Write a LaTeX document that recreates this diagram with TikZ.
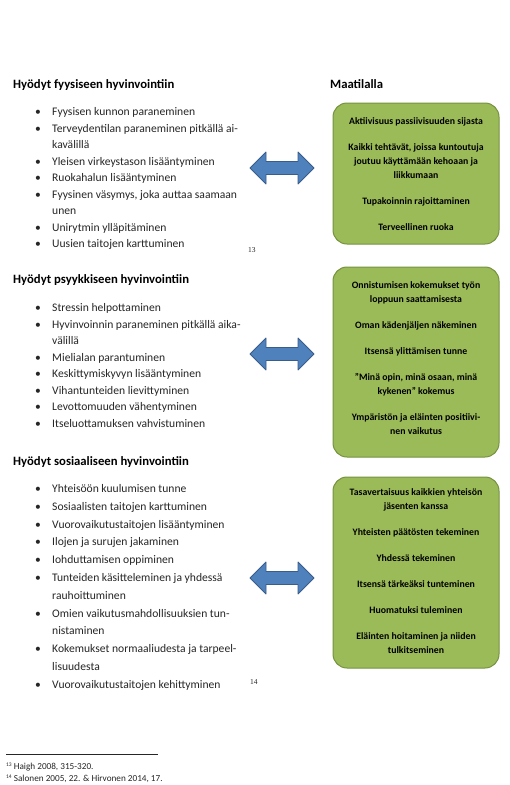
\documentclass[tikz,border=0pt]{standalone}
\usepackage{fontspec}
\setmainfont{Carlito}
\newfontfamily\numfont{Liberation Serif}
\definecolor{boxgreen}{RGB}{155,187,89}
\definecolor{boxborder}{RGB}{118,146,62}
\definecolor{arrowblue}{RGB}{79,129,189}
\definecolor{arrowborder}{RGB}{56,93,138}
\definecolor{bodytext}{RGB}{38,38,38}
\tikzset{
  listtext/.style={anchor=base west, inner sep=0pt, text=bodytext},
  heading/.style={anchor=base west, inner sep=0pt, text=black, font=\bfseries\fontsize{12.7}{14}\selectfont},
  greenbox/.style={draw=boxborder, fill=boxgreen, rounded corners=14pt, line width=1pt, minimum width=166pt, inner sep=0pt},
  boxtext/.style={align=center, inner sep=0pt, text=black, font=\bfseries\fontsize{9.8}{14}\selectfont},
  blockarrow/.style={fill=arrowblue, draw=arrowborder, line width=0.8pt, line join=round},
  dblarrow/.pic={\draw[blockarrow] (-32,0) -- ++(16,-16) -- ++(0,9.5) -- ++(32,0) -- ++(0,-9.5) -- ++(16,16) -- ++(-16,16) -- ++(0,-9.5) -- ++(-32,0) -- ++(0,9.5) -- cycle;},
  pagenum/.style={anchor=base west, inner sep=0pt, text=bodytext, font=\numfont\fontsize{7.5}{8}\selectfont},
  footnote/.style={anchor=base west, inner sep=0pt, text=bodytext, font=\fontsize{9.2}{10}\selectfont}
}
\newcommand{\bul}{\textbullet}
\begin{document}
\begin{tikzpicture}[x=1pt,y=-1pt]
\useasboundingbox[fill=white] (0,0) rectangle (510,785);

% ---------- left column ----------
\node[heading] (h1) at (13,88.5) {Hyödyt fyysiseen hyvinvointiin};
\node[listtext, font=\fontsize{11.6}{16.5}\selectfont] (l1) at (35,115.5) {%
\begin{tabular}[t]{@{}p{17pt}@{}l@{}}
\bul & Fyysisen kunnon paraneminen\\
\bul & Terveydentilan paraneminen pitkällä ai-\\
     & kavälillä\\
\bul & Yleisen virkeystason lisääntyminen\\
\bul & Ruokahalun lisääntyminen\\
\bul & Fyysinen väsymys, joka auttaa saamaan\\
     & unen\\
\bul & Unirytmin ylläpitäminen\\
\bul & Uusien taitojen karttuminen
\end{tabular}};
\node[pagenum] (p13) at (248,252) {13};

\node[heading] (h2) at (13,283.5) {Hyödyt psyykkiseen hyvinvointiin};
\node[listtext, font=\fontsize{11.6}{16.5}\selectfont] (l2) at (35,311.5) {%
\begin{tabular}[t]{@{}p{17pt}@{}l@{}}
\bul & Stressin helpottaminen\\
\bul & Hyvinvoinnin paraneminen pitkällä aika-\\
     & välillä\\
\bul & Mielialan parantuminen\\
\bul & Keskittymiskyvyn lisääntyminen\\
\bul & Vihantunteiden lievittyminen\\
\bul & Levottomuuden vähentyminen\\
\bul & Itseluottamuksen vahvistuminen
\end{tabular}};

\node[heading] (h3) at (13,465.5) {Hyödyt sosiaaliseen hyvinvointiin};
\node[listtext, font=\fontsize{11.6}{17.8}\selectfont] (l3) at (35,492.5) {%
\begin{tabular}[t]{@{}p{17pt}@{}l@{}}
\bul & Yhteisöön kuulumisen tunne\\
\bul & Sosiaalisten taitojen karttuminen\\
\bul & Vuorovaikutustaitojen lisääntyminen\\
\bul & Ilojen ja surujen jakaminen\\
\bul & Iohduttamisen oppiminen\\
\bul & Tunteiden käsitteleminen ja yhdessä\\
     & rauhoittuminen\\
\bul & Omien vaikutusmahdollisuuksien tun-\\
     & nistaminen\\
\bul & Kokemukset normaaliudesta ja tarpeel-\\
     & lisuudesta\\
\bul & Vuorovaikutustaitojen kehittyminen
\end{tabular}};
\node[pagenum] (p14) at (250,684) {14};

% ---------- right column ----------
\node[heading] (hm) at (330,88.5) {Maatilalla};

\node[greenbox, minimum height=141pt] (b1) at (416,173.5) {};
\node[boxtext] (t1) at (416,174.5) {Aktiivisuus passiivisuuden sijasta\\[12pt]
Kaikki tehtävät, joissa kuntoutuja\\ joutuu käyttämään kehoaan ja\\ liikkumaan\\[12pt]
Tupakoinnin rajoittaminen\\[12pt]
Terveellinen ruoka};

\node[greenbox, minimum height=190pt] (b2) at (416,362) {};
\node[boxtext] (t2) at (416,358) {Onnistumisen kokemukset työn\\ loppuun saattamisesta\\[12pt]
Oman kädenjäljen näkeminen\\[12pt]
Itsensä ylittämisen tunne\\[12pt]
”Minä opin, minä osaan, minä\\ kykenen” kokemus\\[12pt]
Ympäristön ja eläinten positiivi-\\ nen vaikutus};

\node[greenbox, minimum height=191pt] (b3) at (416,572.5) {};
\node[boxtext] (t3) at (416,571.5) {Tasavertaisuus kaikkien yhteisön\\ jäsenten kanssa\\[12pt]
Yhteisten päätösten tekeminen\\[12pt]
Yhdessä tekeminen\\[12pt]
Itsensä tärkeäksi tunteminen\\[12pt]
Huomatuksi tuleminen\\[12pt]
Eläinten hoitaminen ja niiden\\ tulkitseminen};

% ---------- arrows ----------
\coordinate (a1) at (282,168);
\coordinate (a2) at (282,354);
\coordinate (a3) at (282,578);
\pic at (a1) {dblarrow};
\pic at (a2) {dblarrow};
\pic at (a3) {dblarrow};

% ---------- footnotes ----------
\coordinate (r1) at (6,754);
\coordinate (r2) at (158,754);
\draw[line width=0.8pt, draw=bodytext] (r1) -- (r2);
\node[footnote] (f1) at (6,769.5) {\raisebox{2.8pt}{\fontsize{5.5}{6}\selectfont 13} Haigh 2008, 315-320.};
\node[footnote] (f2) at (6,781.5) {\raisebox{2.8pt}{\fontsize{5.5}{6}\selectfont 14} Salonen 2005, 22. \& Hirvonen 2014, 17.};
\end{tikzpicture}
\end{document}
